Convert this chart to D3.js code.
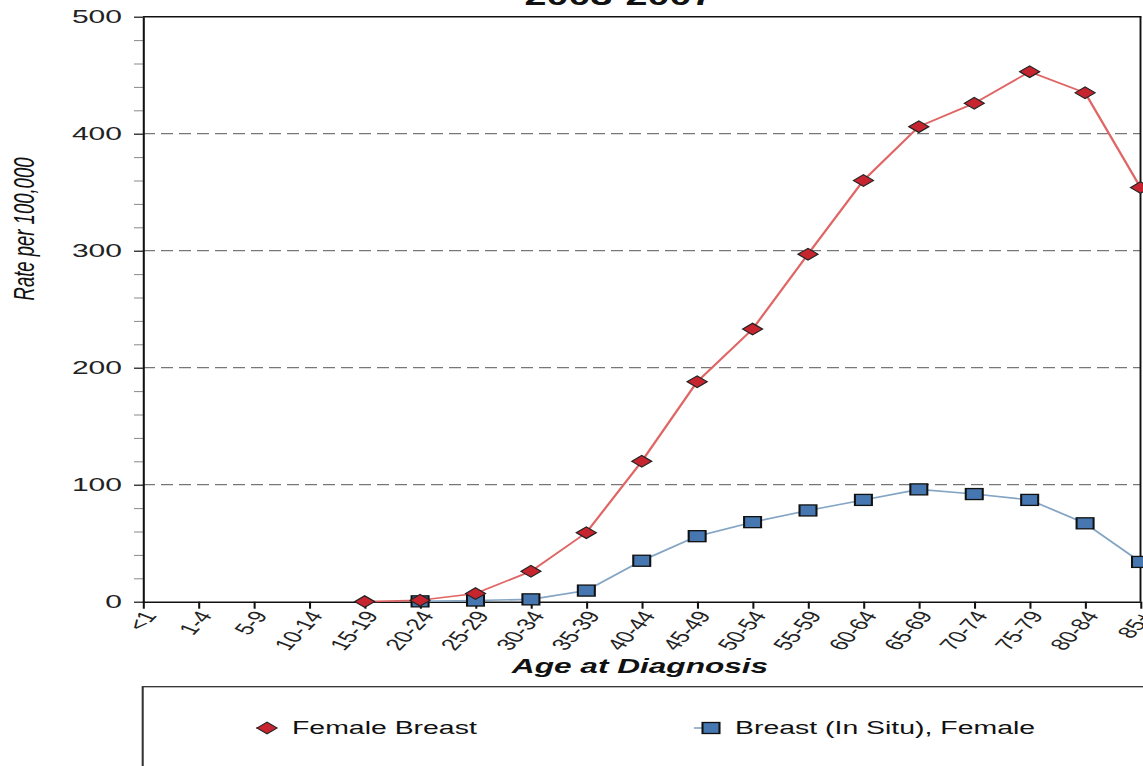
<!DOCTYPE html>
<html>
<head>
<meta charset="utf-8">
<script src="https://cdn.jsdelivr.net/npm/d3@7"></script>
<style>
  html, body { margin: 0; padding: 0; background: #fff; overflow: hidden; }
  svg { display: block; }
  text { font-family: Arial, "Liberation Sans", Helvetica, sans-serif; }
</style>
</head>
<body>
<svg id="chart"></svg>
<script>
// ---- data ----
const ageGroups = ["<1","1-4","5-9","10-14","15-19","20-24","25-29","30-34","35-39","40-44",
                   "45-49","50-54","55-59","60-64","65-69","70-74","75-79","80-84","85+"];
const femaleBreast = [null,null,null,null,0.1,1.2,7,26,59,120,188,233,297,360,406,426,453,435,354];
const breastInSitu = [null,null,null,null,null,0.3,1,2,9.5,35,56,68,78,87,96,92,87,67,34];
const yTicks = [0,100,200,300,400,500];
const seriesNames = ["Female Breast", "Breast (In Situ), Female"];
const titleText = "2003-2007";
const xTitle = "Age at Diagnosis";
const yTitle = "Rate per 100,000";

// ---- layout (picture is stretched horizontally) ----
const WIDTH = 1143, HEIGHT = 766, SX = 1.58;
const UW = WIDTH / SX;           // user-space width
const px = v => v / SX;          // pixel x -> user x

const svg = d3.select("#chart")
  .attr("width", WIDTH).attr("height", HEIGHT)
  .attr("viewBox", `0 0 ${UW} ${HEIGHT}`)
  .attr("preserveAspectRatio", "none");

const x = d3.scalePoint().domain(ageGroups).range([px(143), px(1140.5)]);
const y = d3.scaleLinear().domain([0, 500]).range([601.7, 16.7]);

// title (cut off at top)
svg.append("text").attr("x", px(619)).attr("y", 5)
  .attr("text-anchor", "middle").attr("font-size", 25).attr("font-weight", "bold")
  .attr("fill", "#111").text(titleText);

// gridlines
svg.append("g").selectAll("line").data(yTicks.filter(d => d > 0 && d < 500)).join("line")
  .attr("x1", x.range()[0]).attr("x2", x.range()[1])
  .attr("y1", d => y(d)).attr("y2", d => y(d))
  .attr("stroke", "#777").attr("stroke-width", 1.2)
  .attr("stroke-dasharray", `${px(12)} ${px(6)}`);

// frame top & right
svg.append("line").attr("x1", x.range()[0]).attr("x2", x.range()[1] + px(1))
  .attr("y1", y(500)).attr("y2", y(500)).attr("stroke", "#111").attr("stroke-width", 1.4);
svg.append("line").attr("x1", x.range()[1]).attr("x2", x.range()[1])
  .attr("y1", y(500)).attr("y2", y(0)).attr("stroke", "#111").attr("stroke-width", 1.2);

// minor y ticks
const minor = d3.range(0, 501, 20).filter(d => d % 100 !== 0);
svg.append("g").attr("transform", `translate(${x.range()[0]},0)`)
  .call(d3.axisLeft(y).tickValues(minor).tickSize(px(9)).tickSizeOuter(0).tickFormat(""))
  .call(g => g.select(".domain").remove())
  .call(g => g.selectAll("line").attr("stroke", "#888").attr("stroke-width", 1));

// y axis
svg.append("g").attr("transform", `translate(${x.range()[0]},0)`)
  .call(d3.axisLeft(y).tickValues(yTicks).tickSize(px(9)).tickSizeOuter(0).tickPadding(px(12)))
  .call(g => g.select(".domain").attr("stroke", "#111").attr("stroke-width", 1.3))
  .call(g => g.selectAll(".tick line").attr("stroke", "#111").attr("stroke-width", 1.2))
  .call(g => g.selectAll(".tick text").attr("font-size", 19).attr("fill", "#222")
      .attr("font-family", "Arial, 'Liberation Sans', sans-serif"));

// x axis
svg.append("g").attr("transform", `translate(0,${y(0)})`)
  .call(d3.axisBottom(x).tickSize(7).tickSizeOuter(0))
  .call(g => g.select(".domain").attr("stroke", "#111").attr("stroke-width", 1.5))
  .call(g => g.selectAll(".tick line").attr("stroke", "#111").attr("stroke-width", 1.3))
  .call(g => g.selectAll(".tick text")
      .attr("font-size", 16.5).attr("fill", "#222")
      .attr("font-family", "Arial, 'Liberation Sans', sans-serif")
      .attr("text-anchor", "end")
      .attr("y", 0).attr("dy", "0.35em")
      .attr("transform", `translate(${px(6)},11) rotate(-58)`));

// axis titles
svg.append("text").attr("x", px(640)).attr("y", 673)
  .attr("text-anchor", "middle").attr("font-size", 20)
  .attr("font-weight", "bold").attr("font-style", "italic").attr("fill", "#111")
  .text(xTitle);
svg.append("text")
  .attr("transform", `translate(${px(34)},${229}) rotate(-90)`)
  .attr("text-anchor", "middle").attr("font-size", 18.5)
  .attr("font-style", "italic").attr("fill", "#111")
  .text(yTitle);

// series
const redLine = "#e06666", blueLine = "#85a5c5";
const dhw = px(10), dhh = 5.8;      // diamond half sizes
const shw = px(8.5), shh = 5.5;     // square half sizes
const diamond = (cx, cy) => `M${cx - dhw},${cy}L${cx},${cy - dhh}L${cx + dhw},${cy}L${cx},${cy + dhh}Z`;

const line = d3.line().defined(d => d.v !== null).x(d => x(d.k)).y(d => y(d.v));
const red = ageGroups.map((k, i) => ({k, v: femaleBreast[i]}));
const blue = ageGroups.map((k, i) => ({k, v: breastInSitu[i]}));

svg.append("path").datum(blue).attr("d", line)
  .attr("fill", "none").attr("stroke", blueLine).attr("stroke-width", 1.6);
svg.append("path").datum(red).attr("d", line)
  .attr("fill", "none").attr("stroke", redLine).attr("stroke-width", 1.6);

svg.append("g").selectAll("rect").data(blue.filter(d => d.v !== null)).join("rect")
  .attr("x", d => x(d.k) - shw).attr("y", d => y(d.v) - shh)
  .attr("width", 2 * shw).attr("height", 2 * shh)
  .attr("fill", "#4677b0").attr("stroke", "#111").attr("stroke-width", 1.3);
svg.append("g").selectAll("path").data(red.filter(d => d.v !== null)).join("path")
  .attr("d", d => diamond(x(d.k), y(d.v)))
  .attr("fill", "#c62530").attr("stroke", "#222").attr("stroke-width", 1);

// legend
svg.append("rect").attr("x", px(142.7)).attr("y", 686.7)
  .attr("width", UW).attr("height", 200)
  .attr("fill", "none").attr("stroke", "#333").attr("stroke-width", 1.3);

const lg = svg.append("g");
lg.append("line").attr("x1", px(256)).attr("x2", px(267)).attr("y1", 728).attr("y2", 728)
  .attr("stroke", redLine).attr("stroke-width", 1.6);
lg.append("path").attr("d", diamond(px(267), 728))
  .attr("fill", "#c62530").attr("stroke", "#222").attr("stroke-width", 1);
lg.append("text").attr("x", px(292)).attr("y", 728).attr("dy", "0.35em")
  .attr("font-size", 18).attr("fill", "#111").text(seriesNames[0]);

lg.append("line").attr("x1", px(694)).attr("x2", px(711)).attr("y1", 728).attr("y2", 728)
  .attr("stroke", blueLine).attr("stroke-width", 1.6);
lg.append("rect").attr("x", px(711) - shw).attr("y", 728 - shh)
  .attr("width", 2 * shw).attr("height", 2 * shh)
  .attr("fill", "#4677b0").attr("stroke", "#111").attr("stroke-width", 1.3);
lg.append("text").attr("x", px(735)).attr("y", 728).attr("dy", "0.35em")
  .attr("font-size", 18).attr("fill", "#111").text(seriesNames[1]);
</script>
</body>
</html>
